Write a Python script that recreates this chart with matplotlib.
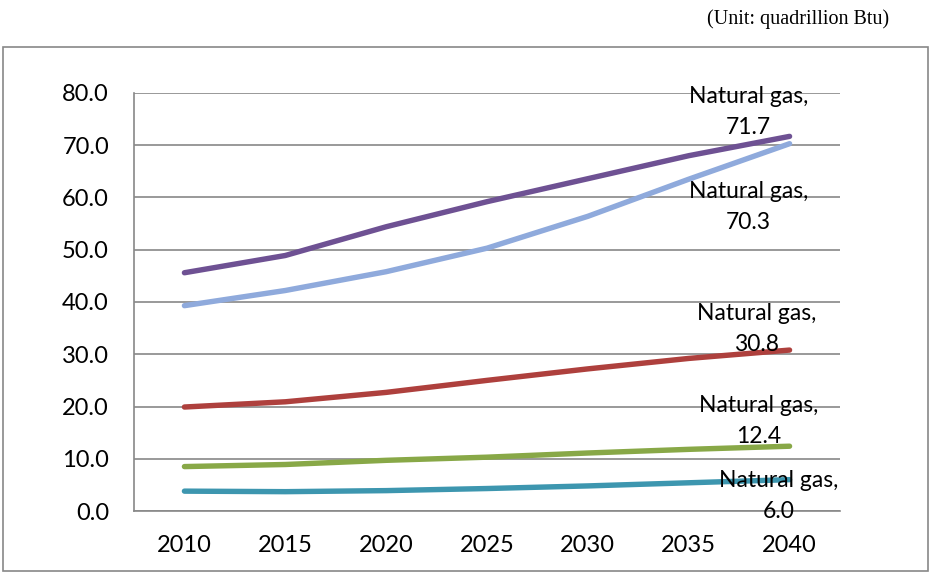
import matplotlib.pyplot as plt
from matplotlib.patches import Rectangle

# Natural gas consumption projections (quadrillion Btu)
years = ['2010', '2015', '2020', '2025', '2030', '2035', '2040']
series_purple = [45.6, 48.9, 54.4, 59.2, 63.6, 68.0, 71.7]
series_lightblue = [39.3, 42.2, 45.8, 50.3, 56.4, 63.5, 70.3]
series_red = [19.9, 20.9, 22.7, 25.0, 27.2, 29.2, 30.8]
series_green = [8.5, 8.9, 9.7, 10.3, 11.1, 11.8, 12.4]
series_teal = [3.8, 3.7, 3.9, 4.3, 4.8, 5.4, 6.0]

label_font = 'Lato'

fig = plt.figure(figsize=(9.32, 5.74), dpi=100)
ax = fig.add_axes([134 / 932, 63 / 574, 706 / 932, 418 / 574])

x = list(range(len(years)))
lines = [
    (series_purple, '#6E5193', (-41, 24)),
    (series_lightblue, '#8FAADC', (-41, -63)),
    (series_red, '#AE403D', (-33, 21)),
    (series_green, '#88A847', (-31, 25)),
    (series_teal, '#3D96AF', (-11, -16)),
]
for vals, col, off in lines:
    ax.plot(x, vals, color=col, lw=3.9, solid_capstyle='round', zorder=3)
    ax.annotate('Natural gas,\n%.1f' % vals[-1], (x[-1], vals[-1]),
                xytext=off, textcoords='offset pixels', ha='center', va='center',
                fontsize=16.5, family=label_font, linespacing=1.6, zorder=4)

ax.set_xlim(-0.5, len(years) - 0.5)
ax.set_ylim(0, 80)
ax.set_yticks(range(0, 81, 10))
ax.set_yticklabels(['%.1f' % v for v in range(0, 81, 10)], family=label_font, fontsize=17)
ax.set_xticks(x)
ax.set_xticklabels(years, family=label_font, fontsize=17)
ax.tick_params(length=0)
ax.tick_params(axis='x', pad=17)
ax.tick_params(axis='y', pad=18)
ax.grid(axis='y', color='#888888', lw=1.2)
ax.set_axisbelow(True)
for s in ['top', 'right']:
    ax.spines[s].set_visible(False)
for s in ['left', 'bottom']:
    ax.spines[s].set_color('#888888')
    ax.spines[s].set_linewidth(1.2)

# outer chart border
fig.patches.append(Rectangle((3 / 932, 3 / 574), 925 / 932, 524 / 574,
                             transform=fig.transFigure, fill=False,
                             edgecolor='#888888', lw=1.2))

fig.text(889 / 932, 1 - 19 / 574, '(Unit: quadrillion Btu)', ha='right', va='center',
         family='Liberation Serif', fontsize=14.5)

fig.savefig('out.png', dpi=100)
